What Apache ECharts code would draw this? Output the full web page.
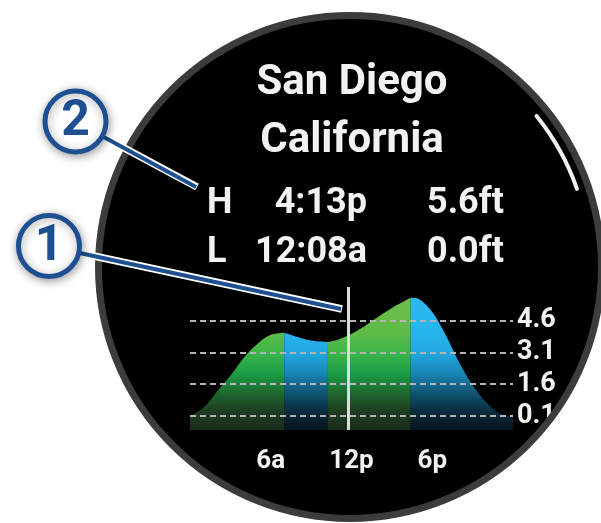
<!DOCTYPE html>
<html>
<head>
<meta charset="utf-8">
<script src="https://cdn.jsdelivr.net/npm/echarts@6/dist/echarts.min.js"></script>
<style>
  html, body { margin: 0; padding: 0; background: #fff; }
  #tide { width: 601px; height: 523px; }
</style>
</head>
<body>
<div id="tide"></div>
<script>
// tide curve (hour of day -> height in ft)
const hours = [0, 1, 2, 3, 4, 5, 6, 7, 8, 9, 10.25, 11, 12, 13, 14, 15, 16.4, 17, 18, 19, 20, 21, 22, 23, 24];
const heights = [0.1, 0.5, 1.25, 2.0, 2.85, 3.5, 3.93, 4.03, 3.83, 3.66, 3.59, 3.7, 3.98, 4.35, 4.78, 5.2, 5.68, 5.62, 5.0, 3.92, 2.62, 1.55, 0.75, 0.22, 0.1];

// coloured bands under the curve
const bandStart = [0, 7, 10.25, 16.4];
const bandEnd = [7, 10.25, 16.4, 24];
const bandKind = ["green", "blue", "green", "blue"];

// axis labels
const tickHours = [6, 12, 18];
const tickNames = ["6a", "12p", "6p"];
const levelValues = [0.1, 1.6, 3.1, 4.6];
const nowHour = 11.74;

// header texts
const place = ["San Diego", "California"];
const tideRows = [
  ["H", "4:13p", "5.6ft"],
  ["L", "12:08a", "0.0ft"],
];

const greenColors = ["#1a2b1b", "#1d3d21", "#1f6a31", "#1b9e46", "#3ab54a", "#5cba47", "#66bd47", "#6cc04a"];
const blueColors = ["#06131b", "#0a2d3f", "#0f5674", "#1887b8", "#20a6de", "#27b3ea", "#29b7ee", "#2bb9ef"];

const FONT = "Roboto";
const navy = "#1d4f91";

var chart = echarts.init(document.getElementById("tide"));

let series = [];
for (let b = 0; b < bandStart.length; b++) {
  let pts = [];
  for (let i = 0; i < hours.length; i++) {
    if (hours[i] >= bandStart[b] && hours[i] <= bandEnd[b]) {
      pts.push([hours[i], heights[i]]);
    }
  }
  series.push({
    type: "line",
    name: bandKind[b],
    data: pts,
    smooth: 0.35,
    showSymbol: false,
    silent: true,
    lineStyle: { width: 0 },
    areaStyle: { opacity: 1, origin: "start" },
  });
}

// dashed level lines + current time marker
series[3].markLine = {
  silent: true,
  symbol: ["none", "none"],
  animation: false,
  data: levelValues
    .map(function (v) {
      return {
        yAxis: v,
        lineStyle: { color: "#b4b4b4", type: [6, 4], width: 2 },
        label: {
          show: true,
          position: "end",
          distance: 4,
          formatter: String(v.toFixed(1)),
          color: "#f2f2f2",
          fontFamily: FONT,
          fontWeight: "bold",
          fontSize: 27,
          padding: [6, 0, 0, 0],
        },
      };
    })
    .concat([
      {
        xAxis: nowHour,
        lineStyle: { color: "#dcdcdc", type: "solid", width: 3 },
        label: { show: false },
      },
    ]),
};

let graphics = [
  // watch face
  {
    type: "circle",
    z: -10,
    shape: { cx: 350, cy: 267, r: 252 },
    style: { fill: "#000" },
  },
  {
    type: "circle",
    z: 100,
    shape: { cx: 350, cy: 267, r: 251.5 },
    style: { fill: null, stroke: "#3c3c3c", lineWidth: 7 },
  },
  {
    type: "arc",
    z: 100,
    shape: { cx: 350, cy: 267, r: 240, startAngle: (-39 * Math.PI) / 180, endAngle: (-19 * Math.PI) / 180 },
    style: { fill: null, stroke: "#f0f0f0", lineWidth: 4, lineCap: "round" },
  },
];

// place name
const placeY = [83, 141];
place.forEach(function (t, i) {
  graphics.push({
    type: "text",
    z: 50,
    x: 352,
    y: placeY[i],
    style: {
      text: t,
      fill: "#f2f2f2",
      font: "bold 42px " + FONT,
      textAlign: "center",
      textVerticalAlign: "middle",
    },
  });
});

// high / low rows
const rowY = [204, 253];
tideRows.forEach(function (r, i) {
  graphics.push(
    { type: "text", z: 50, x: 207, y: rowY[i], style: { text: r[0], fill: "#f2f2f2", font: "bold 36px " + FONT, textAlign: "left", textVerticalAlign: "middle" } },
    { type: "text", z: 50, x: 367, y: rowY[i], style: { text: r[1], fill: "#f2f2f2", font: "bold 36px " + FONT, textAlign: "right", textVerticalAlign: "middle" } },
    { type: "text", z: 50, x: 427, y: rowY[i], style: { text: r[2], fill: "#f2f2f2", font: "bold 36px " + FONT, textAlign: "left", textVerticalAlign: "middle" } }
  );
});

// callouts
const callouts = [
  { label: "2", cx: 75.5, cy: 121.5, to: [197, 187], from: [100, 135] },
  { label: "1", cx: 49, cy: 246, to: [342, 309], from: [75, 252] },
];
callouts.forEach(function (c) {
  graphics.push(
    {
      type: "line",
      z: 150,
      shape: { x1: c.from[0], y1: c.from[1], x2: c.to[0], y2: c.to[1] },
      style: { stroke: "#ffffff", lineWidth: 7.5 },
    },
    {
      type: "line",
      z: 151,
      shape: { x1: c.from[0], y1: c.from[1], x2: c.to[0] - 1, y2: c.to[1] },
      style: { stroke: navy, lineWidth: 4 },
    },
    {
      type: "circle",
      z: 160,
      shape: { cx: c.cx, cy: c.cy, r: 30.5 },
      style: { fill: "#fff", stroke: navy, lineWidth: 5, shadowBlur: 10, shadowColor: "rgba(0,0,0,0.35)", shadowOffsetX: 1, shadowOffsetY: 2 },
    },
    {
      type: "text",
      z: 161,
      x: c.cx,
      y: c.cy + 1,
      style: { text: c.label, fill: navy, font: "bold 50px " + FONT, textAlign: "center", textVerticalAlign: "middle" },
    }
  );
});

let option = {
  backgroundColor: "#fff",
  animation: false,
  grid: {
    left: 190,
    right: 88,
    top: 287,
    bottom: 93,
  },
  xAxis: {
    type: "value",
    min: 0,
    max: 24,
    interval: 6,
    axisLine: { show: false },
    axisTick: { show: false },
    splitLine: { show: false },
    axisLabel: {
      margin: 18,
      color: "#f2f2f2",
      fontFamily: FONT,
      fontWeight: "bold",
      fontSize: 26,
      formatter: function (v) {
        let k = tickHours.indexOf(v);
        return k >= 0 ? tickNames[k] : "";
      },
    },
  },
  yAxis: {
    type: "value",
    min: -0.56,
    max: 6.185,
    show: false,
    splitLine: { show: false },
  },
  visualMap: [
    {
      type: "continuous",
      show: false,
      dimension: 1,
      seriesIndex: [0, 2],
      min: -0.56,
      max: 5.7,
      inRange: { color: greenColors },
    },
    {
      type: "continuous",
      show: false,
      dimension: 1,
      seriesIndex: [1, 3],
      min: -0.56,
      max: 5.7,
      inRange: { color: blueColors },
    },
  ],
  graphic: graphics,
  series: series,
};
chart.setOption(option, true);
</script>
</body>
</html>
